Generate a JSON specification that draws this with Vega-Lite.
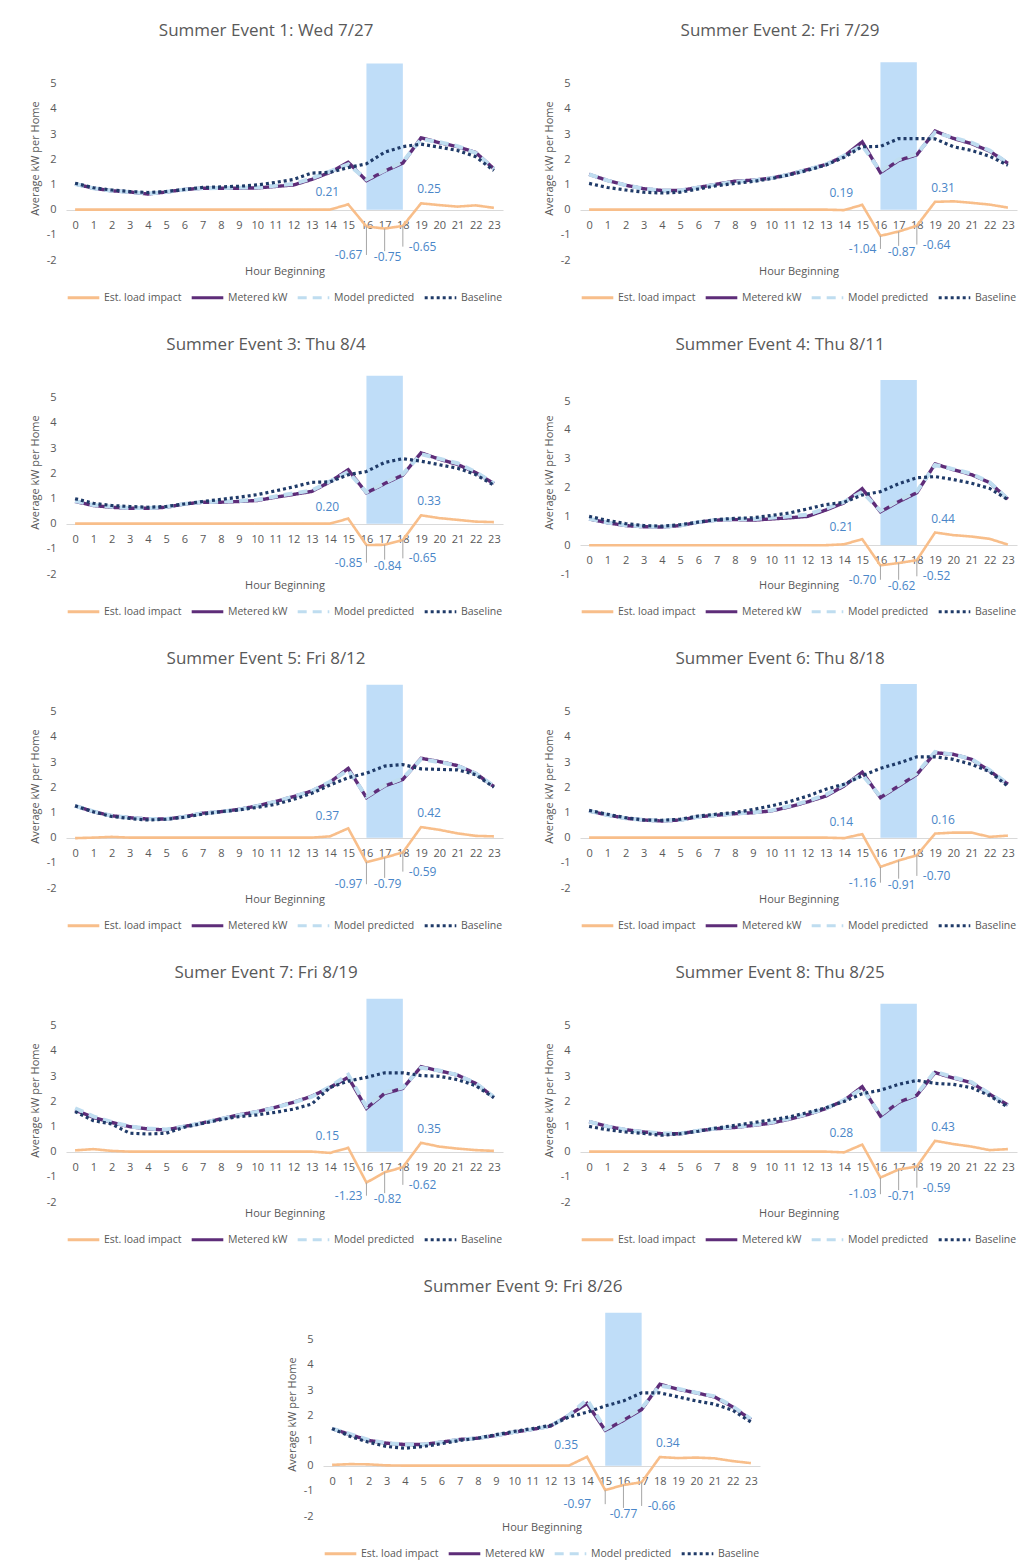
{
"$schema":"https://vega.github.io/schema/vega-lite/v6.json",
"background":"white",
"padding":{"left":29,"top":22,"right":2,"bottom":2},
"datasets":{
"w":[{"e":1,"a":16,"b":18},{"e":2,"a":16,"b":18},{"e":3,"a":16,"b":18},{"e":4,"a":16,"b":18},{"e":5,"a":16,"b":18},{"e":6,"a":16,"b":18},{"e":7,"a":16,"b":18},{"e":8,"a":16,"b":18},{"e":9,"a":15,"b":17}],
"l":[
{"e":1,"t":"pre","h":15,"v":0.21,"lab":"0.21"},{"e":1,"t":"n1","h":16,"v":-0.67,"lab":"-0.67"},{"e":1,"t":"n2","h":17,"v":-0.75,"lab":"-0.75"},{"e":1,"t":"n3","h":18,"v":-0.65,"lab":"-0.65"},{"e":1,"t":"post","h":19,"v":0.25,"lab":"0.25"},
{"e":2,"t":"pre","h":15,"v":0.19,"lab":"0.19"},{"e":2,"t":"n1","h":16,"v":-1.04,"lab":"-1.04"},{"e":2,"t":"n2","h":17,"v":-0.87,"lab":"-0.87"},{"e":2,"t":"n3","h":18,"v":-0.64,"lab":"-0.64"},{"e":2,"t":"post","h":19,"v":0.31,"lab":"0.31"},
{"e":3,"t":"pre","h":15,"v":0.20,"lab":"0.20"},{"e":3,"t":"n1","h":16,"v":-0.85,"lab":"-0.85"},{"e":3,"t":"n2","h":17,"v":-0.84,"lab":"-0.84"},{"e":3,"t":"n3","h":18,"v":-0.65,"lab":"-0.65"},{"e":3,"t":"post","h":19,"v":0.33,"lab":"0.33"},
{"e":4,"t":"pre","h":15,"v":0.21,"lab":"0.21"},{"e":4,"t":"n1","h":16,"v":-0.70,"lab":"-0.70"},{"e":4,"t":"n2","h":17,"v":-0.62,"lab":"-0.62"},{"e":4,"t":"n3","h":18,"v":-0.52,"lab":"-0.52"},{"e":4,"t":"post","h":19,"v":0.44,"lab":"0.44"},
{"e":5,"t":"pre","h":15,"v":0.37,"lab":"0.37"},{"e":5,"t":"n1","h":16,"v":-0.97,"lab":"-0.97"},{"e":5,"t":"n2","h":17,"v":-0.79,"lab":"-0.79"},{"e":5,"t":"n3","h":18,"v":-0.59,"lab":"-0.59"},{"e":5,"t":"post","h":19,"v":0.42,"lab":"0.42"},
{"e":6,"t":"pre","h":15,"v":0.14,"lab":"0.14"},{"e":6,"t":"n1","h":16,"v":-1.16,"lab":"-1.16"},{"e":6,"t":"n2","h":17,"v":-0.91,"lab":"-0.91"},{"e":6,"t":"n3","h":18,"v":-0.70,"lab":"-0.70"},{"e":6,"t":"post","h":19,"v":0.16,"lab":"0.16"},
{"e":7,"t":"pre","h":15,"v":0.15,"lab":"0.15"},{"e":7,"t":"n1","h":16,"v":-1.23,"lab":"-1.23"},{"e":7,"t":"n2","h":17,"v":-0.82,"lab":"-0.82"},{"e":7,"t":"n3","h":18,"v":-0.62,"lab":"-0.62"},{"e":7,"t":"post","h":19,"v":0.35,"lab":"0.35"},
{"e":8,"t":"pre","h":15,"v":0.28,"lab":"0.28"},{"e":8,"t":"n1","h":16,"v":-1.03,"lab":"-1.03"},{"e":8,"t":"n2","h":17,"v":-0.71,"lab":"-0.71"},{"e":8,"t":"n3","h":18,"v":-0.59,"lab":"-0.59"},{"e":8,"t":"post","h":19,"v":0.43,"lab":"0.43"},
{"e":9,"t":"pre","h":14,"v":0.35,"lab":"0.35"},{"e":9,"t":"n1","h":15,"v":-0.97,"lab":"-0.97"},{"e":9,"t":"n2","h":16,"v":-0.77,"lab":"-0.77"},{"e":9,"t":"n3","h":17,"v":-0.66,"lab":"-0.66"},{"e":9,"t":"post","h":18,"v":0.34,"lab":"0.34"}
],
"s":[
{"e":1,"h":0,"imp":0,"met":1.02,"mod":1.02,"base":1.05},{"e":1,"h":1,"imp":0,"met":0.85,"mod":0.85,"base":0.87},{"e":1,"h":2,"imp":0,"met":0.75,"mod":0.75,"base":0.78},{"e":1,"h":3,"imp":0,"met":0.70,"mod":0.70,"base":0.72},{"e":1,"h":4,"imp":0,"met":0.62,"mod":0.64,"base":0.68},{"e":1,"h":5,"imp":0,"met":0.70,"mod":0.70,"base":0.72},{"e":1,"h":6,"imp":0,"met":0.80,"mod":0.80,"base":0.80},{"e":1,"h":7,"imp":0,"met":0.85,"mod":0.85,"base":0.88},{"e":1,"h":8,"imp":0,"met":0.85,"mod":0.86,"base":0.90},{"e":1,"h":9,"imp":0,"met":0.85,"mod":0.87,"base":0.93},{"e":1,"h":10,"imp":0,"met":0.86,"mod":0.88,"base":0.98},{"e":1,"h":11,"imp":0,"met":0.92,"mod":0.95,"base":1.08},{"e":1,"h":12,"imp":0,"met":0.98,"mod":1.02,"base":1.20},{"e":1,"h":13,"imp":0,"met":1.20,"mod":1.24,"base":1.45},{"e":1,"h":14,"imp":0,"met":1.48,"mod":1.52,"base":1.48},{"e":1,"h":15,"imp":0.21,"met":1.88,"mod":1.80,"base":1.67},{"e":1,"h":16,"imp":-0.67,"met":1.15,"mod":1.20,"base":1.82},{"e":1,"h":17,"imp":-0.75,"met":1.53,"mod":1.56,"base":2.28},{"e":1,"h":18,"imp":-0.65,"met":1.85,"mod":1.90,"base":2.50},{"e":1,"h":19,"imp":0.25,"met":2.85,"mod":2.80,"base":2.60},{"e":1,"h":20,"imp":0.18,"met":2.66,"mod":2.68,"base":2.48},{"e":1,"h":21,"imp":0.12,"met":2.50,"mod":2.52,"base":2.35},{"e":1,"h":22,"imp":0.17,"met":2.27,"mod":2.25,"base":2.10},{"e":1,"h":23,"imp":0.07,"met":1.62,"mod":1.62,"base":1.55},
{"e":2,"h":0,"imp":0,"met":1.40,"mod":1.40,"base":1.04},{"e":2,"h":1,"imp":0,"met":1.16,"mod":1.16,"base":0.88},{"e":2,"h":2,"imp":0,"met":0.97,"mod":0.97,"base":0.78},{"e":2,"h":3,"imp":0,"met":0.83,"mod":0.83,"base":0.69},{"e":2,"h":4,"imp":0,"met":0.76,"mod":0.76,"base":0.66},{"e":2,"h":5,"imp":0,"met":0.76,"mod":0.76,"base":0.69},{"e":2,"h":6,"imp":0,"met":0.88,"mod":0.88,"base":0.82},{"e":2,"h":7,"imp":0,"met":1.01,"mod":1.00,"base":0.95},{"e":2,"h":8,"imp":0,"met":1.13,"mod":1.10,"base":1.04},{"e":2,"h":9,"imp":0,"met":1.17,"mod":1.16,"base":1.12},{"e":2,"h":10,"imp":0,"met":1.25,"mod":1.25,"base":1.23},{"e":2,"h":11,"imp":0,"met":1.40,"mod":1.40,"base":1.38},{"e":2,"h":12,"imp":0,"met":1.59,"mod":1.59,"base":1.56},{"e":2,"h":13,"imp":0,"met":1.79,"mod":1.79,"base":1.77},{"e":2,"h":14,"imp":-0.02,"met":2.12,"mod":2.14,"base":2.08},{"e":2,"h":15,"imp":0.19,"met":2.69,"mod":2.55,"base":2.50},{"e":2,"h":16,"imp":-1.04,"met":1.47,"mod":1.52,"base":2.51},{"e":2,"h":17,"imp":-0.87,"met":1.95,"mod":2.00,"base":2.82},{"e":2,"h":18,"imp":-0.64,"met":2.18,"mod":2.22,"base":2.82},{"e":2,"h":19,"imp":0.31,"met":3.12,"mod":3.06,"base":2.81},{"e":2,"h":20,"imp":0.33,"met":2.83,"mod":2.86,"base":2.50},{"e":2,"h":21,"imp":0.27,"met":2.62,"mod":2.66,"base":2.35},{"e":2,"h":22,"imp":0.20,"met":2.32,"mod":2.35,"base":2.12},{"e":2,"h":23,"imp":0.08,"met":1.84,"mod":1.84,"base":1.76},
{"e":3,"h":0,"imp":0,"met":0.88,"mod":0.90,"base":0.99},{"e":3,"h":1,"imp":0,"met":0.72,"mod":0.74,"base":0.81},{"e":3,"h":2,"imp":0,"met":0.65,"mod":0.67,"base":0.72},{"e":3,"h":3,"imp":0,"met":0.61,"mod":0.62,"base":0.68},{"e":3,"h":4,"imp":0,"met":0.61,"mod":0.62,"base":0.65},{"e":3,"h":5,"imp":0,"met":0.65,"mod":0.66,"base":0.68},{"e":3,"h":6,"imp":0,"met":0.78,"mod":0.78,"base":0.78},{"e":3,"h":7,"imp":0,"met":0.85,"mod":0.86,"base":0.88},{"e":3,"h":8,"imp":0,"met":0.85,"mod":0.87,"base":0.96},{"e":3,"h":9,"imp":0,"met":0.88,"mod":0.90,"base":1.05},{"e":3,"h":10,"imp":0,"met":0.92,"mod":0.95,"base":1.15},{"e":3,"h":11,"imp":0,"met":1.05,"mod":1.08,"base":1.30},{"e":3,"h":12,"imp":0,"met":1.16,"mod":1.20,"base":1.46},{"e":3,"h":13,"imp":0,"met":1.28,"mod":1.32,"base":1.64},{"e":3,"h":14,"imp":0,"met":1.66,"mod":1.68,"base":1.66},{"e":3,"h":15,"imp":0.20,"met":2.14,"mod":2.05,"base":1.94},{"e":3,"h":16,"imp":-0.85,"met":1.22,"mod":1.25,"base":2.07},{"e":3,"h":17,"imp":-0.84,"met":1.59,"mod":1.62,"base":2.43},{"e":3,"h":18,"imp":-0.65,"met":1.93,"mod":1.97,"base":2.58},{"e":3,"h":19,"imp":0.33,"met":2.81,"mod":2.76,"base":2.48},{"e":3,"h":20,"imp":0.22,"met":2.56,"mod":2.58,"base":2.34},{"e":3,"h":21,"imp":0.15,"met":2.35,"mod":2.40,"base":2.20},{"e":3,"h":22,"imp":0.08,"met":2.03,"mod":2.05,"base":1.95},{"e":3,"h":23,"imp":0.06,"met":1.59,"mod":1.60,"base":1.53},
{"e":4,"h":0,"imp":0,"met":0.91,"mod":0.92,"base":1.00},{"e":4,"h":1,"imp":0,"met":0.78,"mod":0.79,"base":0.86},{"e":4,"h":2,"imp":0,"met":0.68,"mod":0.69,"base":0.75},{"e":4,"h":3,"imp":0,"met":0.64,"mod":0.65,"base":0.68},{"e":4,"h":4,"imp":0,"met":0.63,"mod":0.64,"base":0.66},{"e":4,"h":5,"imp":0,"met":0.68,"mod":0.68,"base":0.71},{"e":4,"h":6,"imp":0,"met":0.80,"mod":0.80,"base":0.80},{"e":4,"h":7,"imp":0,"met":0.87,"mod":0.87,"base":0.89},{"e":4,"h":8,"imp":0,"met":0.89,"mod":0.90,"base":0.93},{"e":4,"h":9,"imp":0,"met":0.87,"mod":0.90,"base":0.95},{"e":4,"h":10,"imp":0,"met":0.91,"mod":0.95,"base":1.03},{"e":4,"h":11,"imp":0,"met":0.95,"mod":1.00,"base":1.12},{"e":4,"h":12,"imp":0,"met":1.00,"mod":1.06,"base":1.26},{"e":4,"h":13,"imp":0,"met":1.22,"mod":1.27,"base":1.41},{"e":4,"h":14,"imp":0.03,"met":1.47,"mod":1.50,"base":1.49},{"e":4,"h":15,"imp":0.21,"met":1.96,"mod":1.85,"base":1.74},{"e":4,"h":16,"imp":-0.70,"met":1.16,"mod":1.20,"base":1.86},{"e":4,"h":17,"imp":-0.62,"met":1.51,"mod":1.55,"base":2.13},{"e":4,"h":18,"imp":-0.52,"met":1.82,"mod":1.87,"base":2.34},{"e":4,"h":19,"imp":0.44,"met":2.82,"mod":2.78,"base":2.38},{"e":4,"h":20,"imp":0.35,"met":2.62,"mod":2.64,"base":2.28},{"e":4,"h":21,"imp":0.30,"met":2.45,"mod":2.48,"base":2.15},{"e":4,"h":22,"imp":0.22,"met":2.17,"mod":2.18,"base":1.97},{"e":4,"h":23,"imp":0.02,"met":1.60,"mod":1.60,"base":1.58},
{"e":5,"h":0,"imp":-0.02,"met":1.26,"mod":1.26,"base":1.26},{"e":5,"h":1,"imp":0,"met":1.03,"mod":1.04,"base":1.03},{"e":5,"h":2,"imp":0.03,"met":0.87,"mod":0.87,"base":0.84},{"e":5,"h":3,"imp":0,"met":0.79,"mod":0.79,"base":0.76},{"e":5,"h":4,"imp":0,"met":0.74,"mod":0.74,"base":0.70},{"e":5,"h":5,"imp":0,"met":0.74,"mod":0.74,"base":0.73},{"e":5,"h":6,"imp":0,"met":0.83,"mod":0.83,"base":0.81},{"e":5,"h":7,"imp":0,"met":0.97,"mod":0.97,"base":0.93},{"e":5,"h":8,"imp":0,"met":1.03,"mod":1.03,"base":1.03},{"e":5,"h":9,"imp":0,"met":1.12,"mod":1.12,"base":1.10},{"e":5,"h":10,"imp":0,"met":1.26,"mod":1.26,"base":1.20},{"e":5,"h":11,"imp":0,"met":1.43,"mod":1.43,"base":1.32},{"e":5,"h":12,"imp":0,"met":1.63,"mod":1.63,"base":1.52},{"e":5,"h":13,"imp":0,"met":1.85,"mod":1.85,"base":1.76},{"e":5,"h":14,"imp":0.05,"met":2.20,"mod":2.22,"base":2.09},{"e":5,"h":15,"imp":0.37,"met":2.75,"mod":2.68,"base":2.38},{"e":5,"h":16,"imp":-0.97,"met":1.59,"mod":1.63,"base":2.56},{"e":5,"h":17,"imp":-0.79,"met":2.05,"mod":2.08,"base":2.84},{"e":5,"h":18,"imp":-0.59,"met":2.31,"mod":2.35,"base":2.90},{"e":5,"h":19,"imp":0.42,"met":3.15,"mod":3.12,"base":2.73},{"e":5,"h":20,"imp":0.31,"met":3.02,"mod":3.00,"base":2.71},{"e":5,"h":21,"imp":0.17,"met":2.86,"mod":2.85,"base":2.69},{"e":5,"h":22,"imp":0.07,"met":2.55,"mod":2.55,"base":2.50},{"e":5,"h":23,"imp":0.05,"met":2.03,"mod":2.05,"base":2.00},
{"e":6,"h":0,"imp":0,"met":1.06,"mod":1.06,"base":1.08},{"e":6,"h":1,"imp":0,"met":0.90,"mod":0.90,"base":0.93},{"e":6,"h":2,"imp":0,"met":0.77,"mod":0.77,"base":0.79},{"e":6,"h":3,"imp":0,"met":0.70,"mod":0.70,"base":0.70},{"e":6,"h":4,"imp":0,"met":0.66,"mod":0.67,"base":0.69},{"e":6,"h":5,"imp":0,"met":0.70,"mod":0.70,"base":0.73},{"e":6,"h":6,"imp":0,"met":0.83,"mod":0.83,"base":0.86},{"e":6,"h":7,"imp":0,"met":0.89,"mod":0.89,"base":0.93},{"e":6,"h":8,"imp":0,"met":0.95,"mod":0.95,"base":0.99},{"e":6,"h":9,"imp":0,"met":0.99,"mod":1.00,"base":1.12},{"e":6,"h":10,"imp":0,"met":1.06,"mod":1.08,"base":1.26},{"e":6,"h":11,"imp":0,"met":1.22,"mod":1.25,"base":1.43},{"e":6,"h":12,"imp":0,"met":1.42,"mod":1.45,"base":1.65},{"e":6,"h":13,"imp":0,"met":1.65,"mod":1.70,"base":1.92},{"e":6,"h":14,"imp":-0.02,"met":2.05,"mod":2.10,"base":2.12},{"e":6,"h":15,"imp":0.14,"met":2.60,"mod":2.50,"base":2.46},{"e":6,"h":16,"imp":-1.16,"met":1.59,"mod":1.63,"base":2.75},{"e":6,"h":17,"imp":-0.91,"met":2.05,"mod":2.10,"base":2.96},{"e":6,"h":18,"imp":-0.70,"met":2.51,"mod":2.56,"base":3.21},{"e":6,"h":19,"imp":0.16,"met":3.37,"mod":3.40,"base":3.21},{"e":6,"h":20,"imp":0.20,"met":3.31,"mod":3.30,"base":3.11},{"e":6,"h":21,"imp":0.20,"met":3.11,"mod":3.12,"base":2.91},{"e":6,"h":22,"imp":0.03,"met":2.65,"mod":2.68,"base":2.62},{"e":6,"h":23,"imp":0.08,"met":2.12,"mod":2.12,"base":2.04},
{"e":7,"h":0,"imp":0.05,"met":1.65,"mod":1.72,"base":1.59},{"e":7,"h":1,"imp":0.10,"met":1.36,"mod":1.40,"base":1.23},{"e":7,"h":2,"imp":0.03,"met":1.16,"mod":1.18,"base":1.10},{"e":7,"h":3,"imp":0,"met":0.99,"mod":1.00,"base":0.73},{"e":7,"h":4,"imp":0,"met":0.90,"mod":0.92,"base":0.70},{"e":7,"h":5,"imp":0,"met":0.86,"mod":0.88,"base":0.73},{"e":7,"h":6,"imp":0,"met":1.00,"mod":1.00,"base":0.97},{"e":7,"h":7,"imp":0,"met":1.14,"mod":1.14,"base":1.12},{"e":7,"h":8,"imp":0,"met":1.30,"mod":1.30,"base":1.27},{"e":7,"h":9,"imp":0,"met":1.46,"mod":1.45,"base":1.39},{"e":7,"h":10,"imp":0,"met":1.59,"mod":1.58,"base":1.46},{"e":7,"h":11,"imp":0,"met":1.76,"mod":1.75,"base":1.56},{"e":7,"h":12,"imp":0,"met":1.96,"mod":1.95,"base":1.69},{"e":7,"h":13,"imp":0,"met":2.20,"mod":2.18,"base":1.89},{"e":7,"h":14,"imp":-0.05,"met":2.55,"mod":2.58,"base":2.55},{"e":7,"h":15,"imp":0.15,"met":2.95,"mod":3.05,"base":2.80},{"e":7,"h":16,"imp":-1.23,"met":1.72,"mod":1.78,"base":2.95},{"e":7,"h":17,"imp":-0.82,"met":2.31,"mod":2.35,"base":3.13},{"e":7,"h":18,"imp":-0.62,"met":2.51,"mod":2.55,"base":3.13},{"e":7,"h":19,"imp":0.35,"met":3.37,"mod":3.33,"base":3.02},{"e":7,"h":20,"imp":0.20,"met":3.21,"mod":3.22,"base":2.99},{"e":7,"h":21,"imp":0.12,"met":3.04,"mod":3.04,"base":2.86},{"e":7,"h":22,"imp":0.06,"met":2.71,"mod":2.72,"base":2.62},{"e":7,"h":23,"imp":0.03,"met":2.16,"mod":2.17,"base":2.14},
{"e":8,"h":0,"imp":0,"met":1.19,"mod":1.19,"base":1.00},{"e":8,"h":1,"imp":0,"met":1.00,"mod":1.00,"base":0.87},{"e":8,"h":2,"imp":0,"met":0.87,"mod":0.87,"base":0.78},{"e":8,"h":3,"imp":0,"met":0.78,"mod":0.78,"base":0.72},{"e":8,"h":4,"imp":0,"met":0.71,"mod":0.72,"base":0.65},{"e":8,"h":5,"imp":0,"met":0.71,"mod":0.72,"base":0.71},{"e":8,"h":6,"imp":0,"met":0.83,"mod":0.83,"base":0.81},{"e":8,"h":7,"imp":0,"met":0.91,"mod":0.92,"base":0.94},{"e":8,"h":8,"imp":0,"met":0.96,"mod":0.98,"base":1.04},{"e":8,"h":9,"imp":0,"met":1.04,"mod":1.06,"base":1.15},{"e":8,"h":10,"imp":0,"met":1.13,"mod":1.16,"base":1.26},{"e":8,"h":11,"imp":0,"met":1.29,"mod":1.31,"base":1.38},{"e":8,"h":12,"imp":0,"met":1.47,"mod":1.49,"base":1.55},{"e":8,"h":13,"imp":0,"met":1.71,"mod":1.72,"base":1.74},{"e":8,"h":14,"imp":-0.03,"met":2.03,"mod":2.05,"base":1.99},{"e":8,"h":15,"imp":0.28,"met":2.58,"mod":2.50,"base":2.30},{"e":8,"h":16,"imp":-1.03,"met":1.41,"mod":1.46,"base":2.44},{"e":8,"h":17,"imp":-0.71,"met":1.96,"mod":2.00,"base":2.67},{"e":8,"h":18,"imp":-0.59,"met":2.24,"mod":2.28,"base":2.83},{"e":8,"h":19,"imp":0.43,"met":3.14,"mod":3.18,"base":2.71},{"e":8,"h":20,"imp":0.30,"met":2.92,"mod":2.95,"base":2.67},{"e":8,"h":21,"imp":0.20,"met":2.74,"mod":2.76,"base":2.54},{"e":8,"h":22,"imp":0.06,"met":2.28,"mod":2.30,"base":2.22},{"e":8,"h":23,"imp":0.10,"met":1.85,"mod":1.85,"base":1.77},
{"e":9,"h":0,"imp":0.03,"met":1.47,"mod":1.47,"base":1.47},{"e":9,"h":1,"imp":0.06,"met":1.23,"mod":1.25,"base":1.16},{"e":9,"h":2,"imp":0.05,"met":1.00,"mod":1.02,"base":0.93},{"e":9,"h":3,"imp":0.01,"met":0.89,"mod":0.89,"base":0.76},{"e":9,"h":4,"imp":0,"met":0.84,"mod":0.84,"base":0.69},{"e":9,"h":5,"imp":0,"met":0.84,"mod":0.84,"base":0.76},{"e":9,"h":6,"imp":0,"met":0.93,"mod":0.93,"base":0.87},{"e":9,"h":7,"imp":0,"met":1.04,"mod":1.03,"base":1.00},{"e":9,"h":8,"imp":0,"met":1.09,"mod":1.09,"base":1.09},{"e":9,"h":9,"imp":0,"met":1.20,"mod":1.20,"base":1.23},{"e":9,"h":10,"imp":0,"met":1.33,"mod":1.33,"base":1.36},{"e":9,"h":11,"imp":0,"met":1.44,"mod":1.44,"base":1.47},{"e":9,"h":12,"imp":0,"met":1.57,"mod":1.57,"base":1.60},{"e":9,"h":13,"imp":0,"met":2.00,"mod":2.00,"base":1.93},{"e":9,"h":14,"imp":0.35,"met":2.47,"mod":2.62,"base":2.12},{"e":9,"h":15,"imp":-0.97,"met":1.40,"mod":1.45,"base":2.37},{"e":9,"h":16,"imp":-0.77,"met":1.80,"mod":1.85,"base":2.57},{"e":9,"h":17,"imp":-0.66,"met":2.23,"mod":2.28,"base":2.89},{"e":9,"h":18,"imp":0.34,"met":3.23,"mod":3.18,"base":2.89},{"e":9,"h":19,"imp":0.30,"met":3.03,"mod":3.05,"base":2.73},{"e":9,"h":20,"imp":0.32,"met":2.89,"mod":2.90,"base":2.57},{"e":9,"h":21,"imp":0.29,"met":2.73,"mod":2.75,"base":2.44},{"e":9,"h":22,"imp":0.18,"met":2.33,"mod":2.35,"base":2.20},{"e":9,"h":23,"imp":0.10,"met":1.83,"mod":1.85,"base":1.73}
]},
"spacing":32,
"center":true,
"resolve":{"scale":{"x":"independent","y":"independent","color":"independent","strokeDash":"independent"},"legend":{"color":"independent","strokeDash":"independent"}},
"vconcat":[
{"hconcat":[
{"width":437,"height":204,"title":"Summer Event 1: Wed 7/27","resolve":{"axis":{"x":"independent","y":"independent"}},"layer":[
{"data":{"name":"w"},"transform":[{"filter":"datum.e==1"}],"mark":{"type":"rect","color":"#BFDDF8"},"encoding":{"x":{"field":"a","type":"quantitative","axis":null},"x2":{"field":"b"},"y":{"datum":0,"type":"quantitative","axis":null},"y2":{"datum":5.8}}},
{"data":{"name":"s"},"transform":[{"filter":"datum.e==1"},{"fold":["imp","met","mod","base"],"as":["k","v"]}],"encoding":{"x":{"field":"h","type":"quantitative","scale":{"domain":[-0.5,23.5],"nice":false,"zero":false},"axis":{"values":[0,1,2,3,4,5,6,7,8,9,10,11,12,13,14,15,16,17,18,19,20,21,22,23],"title":"Hour Beginning","offset":-50,"titleY":61,"titleBaseline":"middle","labelPadding":9,"labelOverlap":false}},"y":{"field":"v","type":"quantitative","scale":{"domain":[-2,6.1],"nice":false},"axis":{"values":[-2,-1,0,1,2,3,4,5],"title":"Average kW per Home","domain":false,"labelPadding":10,"titlePadding":6,"labelOverlap":false,"labelExpr":"''+datum.value"}},"color":{"field":"k","type":"nominal","scale":{"domain":["imp","met","mod","base"],"range":["#F8BE8A","#5E2D79","#BFDDF0","#1F3A68"]},"legend":{"title":null,"labelExpr":"datum.label=='imp'?'Est. load impact':datum.label=='met'?'Metered kW':datum.label=='mod'?'Model predicted':'Baseline'"}},"strokeDash":{"field":"k","type":"nominal","scale":{"domain":["imp","met","mod","base"],"range":[[1,0],[1,0],[9,6],[3,3]]},"legend":{"title":null,"labelExpr":"datum.label=='imp'?'Est. load impact':datum.label=='met'?'Metered kW':datum.label=='mod'?'Model predicted':'Baseline'"}}},"layer":[
{"transform":[{"filter":"datum.k=='imp'"}],"mark":{"type":"line","strokeWidth":2.6}},
{"transform":[{"filter":"datum.k=='met'"}],"mark":{"type":"line","strokeWidth":3.4}},
{"transform":[{"filter":"datum.k=='mod'"}],"mark":{"type":"line","strokeWidth":4}},
{"transform":[{"filter":"datum.k=='base'"}],"mark":{"type":"line","strokeWidth":3.2}}]},
{"data":{"name":"l"},"transform":[{"filter":"datum.e==1&&datum.t=='pre'"}],"mark":{"type":"text","align":"right","baseline":"middle","dx":-9,"dy":-12,"fontSize":12,"color":"#4A86C8"},"encoding":{"x":{"field":"h","type":"quantitative","axis":null},"y":{"field":"v","type":"quantitative","axis":null},"text":{"field":"lab"}}},
{"data":{"name":"l"},"transform":[{"filter":"datum.e==1&&datum.t=='post'"}],"mark":{"type":"text","align":"center","baseline":"middle","dx":8,"dy":-14,"fontSize":12,"color":"#4A86C8"},"encoding":{"x":{"field":"h","type":"quantitative","axis":null},"y":{"field":"v","type":"quantitative","axis":null},"text":{"field":"lab"}}},
{"data":{"name":"l"},"transform":[{"filter":"datum.e==1&&datum.t=='n1'"}],"mark":{"type":"rule","color":"#A6A6A6"},"encoding":{"x":{"field":"h","type":"quantitative","axis":null},"y":{"field":"v","type":"quantitative","axis":null},"y2":{"datum":-1.8}}},
{"data":{"name":"l"},"transform":[{"filter":"datum.e==1&&datum.t=='n1'"}],"mark":{"type":"text","align":"right","baseline":"middle","dx":-4,"fontSize":12,"color":"#4A86C8"},"encoding":{"x":{"field":"h","type":"quantitative","axis":null},"y":{"datum":-1.8,"type":"quantitative","axis":null},"text":{"field":"lab"}}},
{"data":{"name":"l"},"transform":[{"filter":"datum.e==1&&datum.t=='n2'"}],"mark":{"type":"rule","color":"#A6A6A6"},"encoding":{"x":{"field":"h","type":"quantitative","axis":null},"y":{"field":"v","type":"quantitative","axis":null},"y2":{"datum":-1.65}}},
{"data":{"name":"l"},"transform":[{"filter":"datum.e==1&&datum.t=='n2'"}],"mark":{"type":"text","align":"center","baseline":"middle","dx":3,"fontSize":12,"color":"#4A86C8"},"encoding":{"x":{"field":"h","type":"quantitative","axis":null},"y":{"datum":-1.9,"type":"quantitative","axis":null},"text":{"field":"lab"}}},
{"data":{"name":"l"},"transform":[{"filter":"datum.e==1&&datum.t=='n3'"}],"mark":{"type":"rule","color":"#A6A6A6"},"encoding":{"x":{"field":"h","type":"quantitative","axis":null},"y":{"field":"v","type":"quantitative","axis":null},"y2":{"datum":-1.47}}},
{"data":{"name":"l"},"transform":[{"filter":"datum.e==1&&datum.t=='n3'"}],"mark":{"type":"text","align":"left","baseline":"middle","dx":6,"fontSize":12,"color":"#4A86C8"},"encoding":{"x":{"field":"h","type":"quantitative","axis":null},"y":{"datum":-1.47,"type":"quantitative","axis":null},"text":{"field":"lab"}}}
]},
{"width":437,"height":204,"title":"Summer Event 2: Fri 7/29","resolve":{"axis":{"x":"independent","y":"independent"}},"layer":[
{"data":{"name":"w"},"transform":[{"filter":"datum.e==2"}],"mark":{"type":"rect","color":"#BFDDF8"},"encoding":{"x":{"field":"a","type":"quantitative","axis":null},"x2":{"field":"b"},"y":{"datum":0,"type":"quantitative","axis":null},"y2":{"datum":5.85}}},
{"data":{"name":"s"},"transform":[{"filter":"datum.e==2"},{"fold":["imp","met","mod","base"],"as":["k","v"]}],"encoding":{"x":{"field":"h","type":"quantitative","scale":{"domain":[-0.5,23.5],"nice":false,"zero":false},"axis":{"values":[0,1,2,3,4,5,6,7,8,9,10,11,12,13,14,15,16,17,18,19,20,21,22,23],"title":"Hour Beginning","offset":-50,"titleY":61,"titleBaseline":"middle","labelPadding":9,"labelOverlap":false}},"y":{"field":"v","type":"quantitative","scale":{"domain":[-2,6.1],"nice":false},"axis":{"values":[-2,-1,0,1,2,3,4,5],"title":"Average kW per Home","domain":false,"labelPadding":10,"titlePadding":6,"labelOverlap":false,"labelExpr":"''+datum.value"}},"color":{"field":"k","type":"nominal","scale":{"domain":["imp","met","mod","base"],"range":["#F8BE8A","#5E2D79","#BFDDF0","#1F3A68"]},"legend":{"title":null,"labelExpr":"datum.label=='imp'?'Est. load impact':datum.label=='met'?'Metered kW':datum.label=='mod'?'Model predicted':'Baseline'"}},"strokeDash":{"field":"k","type":"nominal","scale":{"domain":["imp","met","mod","base"],"range":[[1,0],[1,0],[9,6],[3,3]]},"legend":{"title":null,"labelExpr":"datum.label=='imp'?'Est. load impact':datum.label=='met'?'Metered kW':datum.label=='mod'?'Model predicted':'Baseline'"}}},"layer":[
{"transform":[{"filter":"datum.k=='imp'"}],"mark":{"type":"line","strokeWidth":2.6}},
{"transform":[{"filter":"datum.k=='met'"}],"mark":{"type":"line","strokeWidth":3.4}},
{"transform":[{"filter":"datum.k=='mod'"}],"mark":{"type":"line","strokeWidth":4}},
{"transform":[{"filter":"datum.k=='base'"}],"mark":{"type":"line","strokeWidth":3.2}}]},
{"data":{"name":"l"},"transform":[{"filter":"datum.e==2&&datum.t=='pre'"}],"mark":{"type":"text","align":"right","baseline":"middle","dx":-9,"dy":-12,"fontSize":12,"color":"#4A86C8"},"encoding":{"x":{"field":"h","type":"quantitative","axis":null},"y":{"field":"v","type":"quantitative","axis":null},"text":{"field":"lab"}}},
{"data":{"name":"l"},"transform":[{"filter":"datum.e==2&&datum.t=='post'"}],"mark":{"type":"text","align":"center","baseline":"middle","dx":8,"dy":-14,"fontSize":12,"color":"#4A86C8"},"encoding":{"x":{"field":"h","type":"quantitative","axis":null},"y":{"field":"v","type":"quantitative","axis":null},"text":{"field":"lab"}}},
{"data":{"name":"l"},"transform":[{"filter":"datum.e==2&&datum.t=='n1'"}],"mark":{"type":"rule","color":"#A6A6A6"},"encoding":{"x":{"field":"h","type":"quantitative","axis":null},"y":{"field":"v","type":"quantitative","axis":null},"y2":{"datum":-1.56}}},
{"data":{"name":"l"},"transform":[{"filter":"datum.e==2&&datum.t=='n1'"}],"mark":{"type":"text","align":"right","baseline":"middle","dx":-4,"fontSize":12,"color":"#4A86C8"},"encoding":{"x":{"field":"h","type":"quantitative","axis":null},"y":{"datum":-1.56,"type":"quantitative","axis":null},"text":{"field":"lab"}}},
{"data":{"name":"l"},"transform":[{"filter":"datum.e==2&&datum.t=='n2'"}],"mark":{"type":"rule","color":"#A6A6A6"},"encoding":{"x":{"field":"h","type":"quantitative","axis":null},"y":{"field":"v","type":"quantitative","axis":null},"y2":{"datum":-1.44}}},
{"data":{"name":"l"},"transform":[{"filter":"datum.e==2&&datum.t=='n2'"}],"mark":{"type":"text","align":"center","baseline":"middle","dx":3,"fontSize":12,"color":"#4A86C8"},"encoding":{"x":{"field":"h","type":"quantitative","axis":null},"y":{"datum":-1.69,"type":"quantitative","axis":null},"text":{"field":"lab"}}},
{"data":{"name":"l"},"transform":[{"filter":"datum.e==2&&datum.t=='n3'"}],"mark":{"type":"rule","color":"#A6A6A6"},"encoding":{"x":{"field":"h","type":"quantitative","axis":null},"y":{"field":"v","type":"quantitative","axis":null},"y2":{"datum":-1.39}}},
{"data":{"name":"l"},"transform":[{"filter":"datum.e==2&&datum.t=='n3'"}],"mark":{"type":"text","align":"left","baseline":"middle","dx":6,"fontSize":12,"color":"#4A86C8"},"encoding":{"x":{"field":"h","type":"quantitative","axis":null},"y":{"datum":-1.39,"type":"quantitative","axis":null},"text":{"field":"lab"}}}
]}
],"spacing":40,"resolve":{"scale":{"x":"independent","y":"independent","color":"independent","strokeDash":"independent"},"legend":{"color":"independent","strokeDash":"independent"}}},
{"hconcat":[
{"width":437,"height":204,"title":"Summer Event 3: Thu 8/4","resolve":{"axis":{"x":"independent","y":"independent"}},"layer":[
{"data":{"name":"w"},"transform":[{"filter":"datum.e==3"}],"mark":{"type":"rect","color":"#BFDDF8"},"encoding":{"x":{"field":"a","type":"quantitative","axis":null},"x2":{"field":"b"},"y":{"datum":0,"type":"quantitative","axis":null},"y2":{"datum":5.87}}},
{"data":{"name":"s"},"transform":[{"filter":"datum.e==3"},{"fold":["imp","met","mod","base"],"as":["k","v"]}],"encoding":{"x":{"field":"h","type":"quantitative","scale":{"domain":[-0.5,23.5],"nice":false,"zero":false},"axis":{"values":[0,1,2,3,4,5,6,7,8,9,10,11,12,13,14,15,16,17,18,19,20,21,22,23],"title":"Hour Beginning","offset":-50,"titleY":61,"titleBaseline":"middle","labelPadding":9,"labelOverlap":false}},"y":{"field":"v","type":"quantitative","scale":{"domain":[-2,6.1],"nice":false},"axis":{"values":[-2,-1,0,1,2,3,4,5],"title":"Average kW per Home","domain":false,"labelPadding":10,"titlePadding":6,"labelOverlap":false,"labelExpr":"''+datum.value"}},"color":{"field":"k","type":"nominal","scale":{"domain":["imp","met","mod","base"],"range":["#F8BE8A","#5E2D79","#BFDDF0","#1F3A68"]},"legend":{"title":null,"labelExpr":"datum.label=='imp'?'Est. load impact':datum.label=='met'?'Metered kW':datum.label=='mod'?'Model predicted':'Baseline'"}},"strokeDash":{"field":"k","type":"nominal","scale":{"domain":["imp","met","mod","base"],"range":[[1,0],[1,0],[9,6],[3,3]]},"legend":{"title":null,"labelExpr":"datum.label=='imp'?'Est. load impact':datum.label=='met'?'Metered kW':datum.label=='mod'?'Model predicted':'Baseline'"}}},"layer":[
{"transform":[{"filter":"datum.k=='imp'"}],"mark":{"type":"line","strokeWidth":2.6}},
{"transform":[{"filter":"datum.k=='met'"}],"mark":{"type":"line","strokeWidth":3.4}},
{"transform":[{"filter":"datum.k=='mod'"}],"mark":{"type":"line","strokeWidth":4}},
{"transform":[{"filter":"datum.k=='base'"}],"mark":{"type":"line","strokeWidth":3.2}}]},
{"data":{"name":"l"},"transform":[{"filter":"datum.e==3&&datum.t=='pre'"}],"mark":{"type":"text","align":"right","baseline":"middle","dx":-9,"dy":-12,"fontSize":12,"color":"#4A86C8"},"encoding":{"x":{"field":"h","type":"quantitative","axis":null},"y":{"field":"v","type":"quantitative","axis":null},"text":{"field":"lab"}}},
{"data":{"name":"l"},"transform":[{"filter":"datum.e==3&&datum.t=='post'"}],"mark":{"type":"text","align":"center","baseline":"middle","dx":8,"dy":-14,"fontSize":12,"color":"#4A86C8"},"encoding":{"x":{"field":"h","type":"quantitative","axis":null},"y":{"field":"v","type":"quantitative","axis":null},"text":{"field":"lab"}}},
{"data":{"name":"l"},"transform":[{"filter":"datum.e==3&&datum.t=='n1'"}],"mark":{"type":"rule","color":"#A6A6A6"},"encoding":{"x":{"field":"h","type":"quantitative","axis":null},"y":{"field":"v","type":"quantitative","axis":null},"y2":{"datum":-1.55}}},
{"data":{"name":"l"},"transform":[{"filter":"datum.e==3&&datum.t=='n1'"}],"mark":{"type":"text","align":"right","baseline":"middle","dx":-4,"fontSize":12,"color":"#4A86C8"},"encoding":{"x":{"field":"h","type":"quantitative","axis":null},"y":{"datum":-1.55,"type":"quantitative","axis":null},"text":{"field":"lab"}}},
{"data":{"name":"l"},"transform":[{"filter":"datum.e==3&&datum.t=='n2'"}],"mark":{"type":"rule","color":"#A6A6A6"},"encoding":{"x":{"field":"h","type":"quantitative","axis":null},"y":{"field":"v","type":"quantitative","axis":null},"y2":{"datum":-1.43}}},
{"data":{"name":"l"},"transform":[{"filter":"datum.e==3&&datum.t=='n2'"}],"mark":{"type":"text","align":"center","baseline":"middle","dx":3,"fontSize":12,"color":"#4A86C8"},"encoding":{"x":{"field":"h","type":"quantitative","axis":null},"y":{"datum":-1.68,"type":"quantitative","axis":null},"text":{"field":"lab"}}},
{"data":{"name":"l"},"transform":[{"filter":"datum.e==3&&datum.t=='n3'"}],"mark":{"type":"rule","color":"#A6A6A6"},"encoding":{"x":{"field":"h","type":"quantitative","axis":null},"y":{"field":"v","type":"quantitative","axis":null},"y2":{"datum":-1.38}}},
{"data":{"name":"l"},"transform":[{"filter":"datum.e==3&&datum.t=='n3'"}],"mark":{"type":"text","align":"left","baseline":"middle","dx":6,"fontSize":12,"color":"#4A86C8"},"encoding":{"x":{"field":"h","type":"quantitative","axis":null},"y":{"datum":-1.38,"type":"quantitative","axis":null},"text":{"field":"lab"}}}
]},
{"width":437,"height":204,"title":"Summer Event 4: Thu 8/11","resolve":{"axis":{"x":"independent","y":"independent"}},"layer":[
{"data":{"name":"w"},"transform":[{"filter":"datum.e==4"}],"mark":{"type":"rect","color":"#BFDDF8"},"encoding":{"x":{"field":"a","type":"quantitative","axis":null},"x2":{"field":"b"},"y":{"datum":0,"type":"quantitative","axis":null},"y2":{"datum":5.73}}},
{"data":{"name":"s"},"transform":[{"filter":"datum.e==4"},{"fold":["imp","met","mod","base"],"as":["k","v"]}],"encoding":{"x":{"field":"h","type":"quantitative","scale":{"domain":[-0.5,23.5],"nice":false,"zero":false},"axis":{"values":[0,1,2,3,4,5,6,7,8,9,10,11,12,13,14,15,16,17,18,19,20,21,22,23],"title":"Hour Beginning","offset":-29,"titleY":40,"titleBaseline":"middle","labelPadding":9,"labelOverlap":false}},"y":{"field":"v","type":"quantitative","scale":{"domain":[-1,6.08],"nice":false},"axis":{"values":[-1,0,1,2,3,4,5],"title":"Average kW per Home","domain":false,"labelPadding":10,"titlePadding":6,"labelOverlap":false,"labelExpr":"''+datum.value"}},"color":{"field":"k","type":"nominal","scale":{"domain":["imp","met","mod","base"],"range":["#F8BE8A","#5E2D79","#BFDDF0","#1F3A68"]},"legend":{"title":null,"labelExpr":"datum.label=='imp'?'Est. load impact':datum.label=='met'?'Metered kW':datum.label=='mod'?'Model predicted':'Baseline'"}},"strokeDash":{"field":"k","type":"nominal","scale":{"domain":["imp","met","mod","base"],"range":[[1,0],[1,0],[9,6],[3,3]]},"legend":{"title":null,"labelExpr":"datum.label=='imp'?'Est. load impact':datum.label=='met'?'Metered kW':datum.label=='mod'?'Model predicted':'Baseline'"}}},"layer":[
{"transform":[{"filter":"datum.k=='imp'"}],"mark":{"type":"line","strokeWidth":2.6}},
{"transform":[{"filter":"datum.k=='met'"}],"mark":{"type":"line","strokeWidth":3.4}},
{"transform":[{"filter":"datum.k=='mod'"}],"mark":{"type":"line","strokeWidth":4}},
{"transform":[{"filter":"datum.k=='base'"}],"mark":{"type":"line","strokeWidth":3.2}}]},
{"data":{"name":"l"},"transform":[{"filter":"datum.e==4&&datum.t=='pre'"}],"mark":{"type":"text","align":"right","baseline":"middle","dx":-9,"dy":-12,"fontSize":12,"color":"#4A86C8"},"encoding":{"x":{"field":"h","type":"quantitative","axis":null},"y":{"field":"v","type":"quantitative","axis":null},"text":{"field":"lab"}}},
{"data":{"name":"l"},"transform":[{"filter":"datum.e==4&&datum.t=='post'"}],"mark":{"type":"text","align":"center","baseline":"middle","dx":8,"dy":-14,"fontSize":12,"color":"#4A86C8"},"encoding":{"x":{"field":"h","type":"quantitative","axis":null},"y":{"field":"v","type":"quantitative","axis":null},"text":{"field":"lab"}}},
{"data":{"name":"l"},"transform":[{"filter":"datum.e==4&&datum.t=='n1'"}],"mark":{"type":"rule","color":"#A6A6A6"},"encoding":{"x":{"field":"h","type":"quantitative","axis":null},"y":{"field":"v","type":"quantitative","axis":null},"y2":{"datum":-1.2}}},
{"data":{"name":"l"},"transform":[{"filter":"datum.e==4&&datum.t=='n1'"}],"mark":{"type":"text","align":"right","baseline":"middle","dx":-4,"fontSize":12,"color":"#4A86C8"},"encoding":{"x":{"field":"h","type":"quantitative","axis":null},"y":{"datum":-1.2,"type":"quantitative","axis":null},"text":{"field":"lab"}}},
{"data":{"name":"l"},"transform":[{"filter":"datum.e==4&&datum.t=='n2'"}],"mark":{"type":"rule","color":"#A6A6A6"},"encoding":{"x":{"field":"h","type":"quantitative","axis":null},"y":{"field":"v","type":"quantitative","axis":null},"y2":{"datum":-1.2}}},
{"data":{"name":"l"},"transform":[{"filter":"datum.e==4&&datum.t=='n2'"}],"mark":{"type":"text","align":"center","baseline":"middle","dx":3,"fontSize":12,"color":"#4A86C8"},"encoding":{"x":{"field":"h","type":"quantitative","axis":null},"y":{"datum":-1.42,"type":"quantitative","axis":null},"text":{"field":"lab"}}},
{"data":{"name":"l"},"transform":[{"filter":"datum.e==4&&datum.t=='n3'"}],"mark":{"type":"rule","color":"#A6A6A6"},"encoding":{"x":{"field":"h","type":"quantitative","axis":null},"y":{"field":"v","type":"quantitative","axis":null},"y2":{"datum":-1.08}}},
{"data":{"name":"l"},"transform":[{"filter":"datum.e==4&&datum.t=='n3'"}],"mark":{"type":"text","align":"left","baseline":"middle","dx":6,"fontSize":12,"color":"#4A86C8"},"encoding":{"x":{"field":"h","type":"quantitative","axis":null},"y":{"datum":-1.08,"type":"quantitative","axis":null},"text":{"field":"lab"}}}
]}
],"spacing":40,"resolve":{"scale":{"x":"independent","y":"independent","color":"independent","strokeDash":"independent"},"legend":{"color":"independent","strokeDash":"independent"}}},
{"hconcat":[
{"width":437,"height":204,"title":"Summer Event 5: Fri 8/12","resolve":{"axis":{"x":"independent","y":"independent"}},"layer":[
{"data":{"name":"w"},"transform":[{"filter":"datum.e==5"}],"mark":{"type":"rect","color":"#BFDDF8"},"encoding":{"x":{"field":"a","type":"quantitative","axis":null},"x2":{"field":"b"},"y":{"datum":0,"type":"quantitative","axis":null},"y2":{"datum":6.07}}},
{"data":{"name":"s"},"transform":[{"filter":"datum.e==5"},{"fold":["imp","met","mod","base"],"as":["k","v"]}],"encoding":{"x":{"field":"h","type":"quantitative","scale":{"domain":[-0.5,23.5],"nice":false,"zero":false},"axis":{"values":[0,1,2,3,4,5,6,7,8,9,10,11,12,13,14,15,16,17,18,19,20,21,22,23],"title":"Hour Beginning","offset":-50,"titleY":61,"titleBaseline":"middle","labelPadding":9,"labelOverlap":false}},"y":{"field":"v","type":"quantitative","scale":{"domain":[-2,6.1],"nice":false},"axis":{"values":[-2,-1,0,1,2,3,4,5],"title":"Average kW per Home","domain":false,"labelPadding":10,"titlePadding":6,"labelOverlap":false,"labelExpr":"''+datum.value"}},"color":{"field":"k","type":"nominal","scale":{"domain":["imp","met","mod","base"],"range":["#F8BE8A","#5E2D79","#BFDDF0","#1F3A68"]},"legend":{"title":null,"labelExpr":"datum.label=='imp'?'Est. load impact':datum.label=='met'?'Metered kW':datum.label=='mod'?'Model predicted':'Baseline'"}},"strokeDash":{"field":"k","type":"nominal","scale":{"domain":["imp","met","mod","base"],"range":[[1,0],[1,0],[9,6],[3,3]]},"legend":{"title":null,"labelExpr":"datum.label=='imp'?'Est. load impact':datum.label=='met'?'Metered kW':datum.label=='mod'?'Model predicted':'Baseline'"}}},"layer":[
{"transform":[{"filter":"datum.k=='imp'"}],"mark":{"type":"line","strokeWidth":2.6}},
{"transform":[{"filter":"datum.k=='met'"}],"mark":{"type":"line","strokeWidth":3.4}},
{"transform":[{"filter":"datum.k=='mod'"}],"mark":{"type":"line","strokeWidth":4}},
{"transform":[{"filter":"datum.k=='base'"}],"mark":{"type":"line","strokeWidth":3.2}}]},
{"data":{"name":"l"},"transform":[{"filter":"datum.e==5&&datum.t=='pre'"}],"mark":{"type":"text","align":"right","baseline":"middle","dx":-9,"dy":-12,"fontSize":12,"color":"#4A86C8"},"encoding":{"x":{"field":"h","type":"quantitative","axis":null},"y":{"field":"v","type":"quantitative","axis":null},"text":{"field":"lab"}}},
{"data":{"name":"l"},"transform":[{"filter":"datum.e==5&&datum.t=='post'"}],"mark":{"type":"text","align":"center","baseline":"middle","dx":8,"dy":-14,"fontSize":12,"color":"#4A86C8"},"encoding":{"x":{"field":"h","type":"quantitative","axis":null},"y":{"field":"v","type":"quantitative","axis":null},"text":{"field":"lab"}}},
{"data":{"name":"l"},"transform":[{"filter":"datum.e==5&&datum.t=='n1'"}],"mark":{"type":"rule","color":"#A6A6A6"},"encoding":{"x":{"field":"h","type":"quantitative","axis":null},"y":{"field":"v","type":"quantitative","axis":null},"y2":{"datum":-1.85}}},
{"data":{"name":"l"},"transform":[{"filter":"datum.e==5&&datum.t=='n1'"}],"mark":{"type":"text","align":"right","baseline":"middle","dx":-4,"fontSize":12,"color":"#4A86C8"},"encoding":{"x":{"field":"h","type":"quantitative","axis":null},"y":{"datum":-1.85,"type":"quantitative","axis":null},"text":{"field":"lab"}}},
{"data":{"name":"l"},"transform":[{"filter":"datum.e==5&&datum.t=='n2'"}],"mark":{"type":"rule","color":"#A6A6A6"},"encoding":{"x":{"field":"h","type":"quantitative","axis":null},"y":{"field":"v","type":"quantitative","axis":null},"y2":{"datum":-1.6}}},
{"data":{"name":"l"},"transform":[{"filter":"datum.e==5&&datum.t=='n2'"}],"mark":{"type":"text","align":"center","baseline":"middle","dx":3,"fontSize":12,"color":"#4A86C8"},"encoding":{"x":{"field":"h","type":"quantitative","axis":null},"y":{"datum":-1.85,"type":"quantitative","axis":null},"text":{"field":"lab"}}},
{"data":{"name":"l"},"transform":[{"filter":"datum.e==5&&datum.t=='n3'"}],"mark":{"type":"rule","color":"#A6A6A6"},"encoding":{"x":{"field":"h","type":"quantitative","axis":null},"y":{"field":"v","type":"quantitative","axis":null},"y2":{"datum":-1.35}}},
{"data":{"name":"l"},"transform":[{"filter":"datum.e==5&&datum.t=='n3'"}],"mark":{"type":"text","align":"left","baseline":"middle","dx":6,"fontSize":12,"color":"#4A86C8"},"encoding":{"x":{"field":"h","type":"quantitative","axis":null},"y":{"datum":-1.35,"type":"quantitative","axis":null},"text":{"field":"lab"}}}
]},
{"width":437,"height":204,"title":"Summer Event 6: Thu 8/18","resolve":{"axis":{"x":"independent","y":"independent"}},"layer":[
{"data":{"name":"w"},"transform":[{"filter":"datum.e==6"}],"mark":{"type":"rect","color":"#BFDDF8"},"encoding":{"x":{"field":"a","type":"quantitative","axis":null},"x2":{"field":"b"},"y":{"datum":0,"type":"quantitative","axis":null},"y2":{"datum":6.1}}},
{"data":{"name":"s"},"transform":[{"filter":"datum.e==6"},{"fold":["imp","met","mod","base"],"as":["k","v"]}],"encoding":{"x":{"field":"h","type":"quantitative","scale":{"domain":[-0.5,23.5],"nice":false,"zero":false},"axis":{"values":[0,1,2,3,4,5,6,7,8,9,10,11,12,13,14,15,16,17,18,19,20,21,22,23],"title":"Hour Beginning","offset":-50,"titleY":61,"titleBaseline":"middle","labelPadding":9,"labelOverlap":false}},"y":{"field":"v","type":"quantitative","scale":{"domain":[-2,6.1],"nice":false},"axis":{"values":[-2,-1,0,1,2,3,4,5],"title":"Average kW per Home","domain":false,"labelPadding":10,"titlePadding":6,"labelOverlap":false,"labelExpr":"''+datum.value"}},"color":{"field":"k","type":"nominal","scale":{"domain":["imp","met","mod","base"],"range":["#F8BE8A","#5E2D79","#BFDDF0","#1F3A68"]},"legend":{"title":null,"labelExpr":"datum.label=='imp'?'Est. load impact':datum.label=='met'?'Metered kW':datum.label=='mod'?'Model predicted':'Baseline'"}},"strokeDash":{"field":"k","type":"nominal","scale":{"domain":["imp","met","mod","base"],"range":[[1,0],[1,0],[9,6],[3,3]]},"legend":{"title":null,"labelExpr":"datum.label=='imp'?'Est. load impact':datum.label=='met'?'Metered kW':datum.label=='mod'?'Model predicted':'Baseline'"}}},"layer":[
{"transform":[{"filter":"datum.k=='imp'"}],"mark":{"type":"line","strokeWidth":2.6}},
{"transform":[{"filter":"datum.k=='met'"}],"mark":{"type":"line","strokeWidth":3.4}},
{"transform":[{"filter":"datum.k=='mod'"}],"mark":{"type":"line","strokeWidth":4}},
{"transform":[{"filter":"datum.k=='base'"}],"mark":{"type":"line","strokeWidth":3.2}}]},
{"data":{"name":"l"},"transform":[{"filter":"datum.e==6&&datum.t=='pre'"}],"mark":{"type":"text","align":"right","baseline":"middle","dx":-9,"dy":-12,"fontSize":12,"color":"#4A86C8"},"encoding":{"x":{"field":"h","type":"quantitative","axis":null},"y":{"field":"v","type":"quantitative","axis":null},"text":{"field":"lab"}}},
{"data":{"name":"l"},"transform":[{"filter":"datum.e==6&&datum.t=='post'"}],"mark":{"type":"text","align":"center","baseline":"middle","dx":8,"dy":-14,"fontSize":12,"color":"#4A86C8"},"encoding":{"x":{"field":"h","type":"quantitative","axis":null},"y":{"field":"v","type":"quantitative","axis":null},"text":{"field":"lab"}}},
{"data":{"name":"l"},"transform":[{"filter":"datum.e==6&&datum.t=='n1'"}],"mark":{"type":"rule","color":"#A6A6A6"},"encoding":{"x":{"field":"h","type":"quantitative","axis":null},"y":{"field":"v","type":"quantitative","axis":null},"y2":{"datum":-1.79}}},
{"data":{"name":"l"},"transform":[{"filter":"datum.e==6&&datum.t=='n1'"}],"mark":{"type":"text","align":"right","baseline":"middle","dx":-4,"fontSize":12,"color":"#4A86C8"},"encoding":{"x":{"field":"h","type":"quantitative","axis":null},"y":{"datum":-1.79,"type":"quantitative","axis":null},"text":{"field":"lab"}}},
{"data":{"name":"l"},"transform":[{"filter":"datum.e==6&&datum.t=='n2'"}],"mark":{"type":"rule","color":"#A6A6A6"},"encoding":{"x":{"field":"h","type":"quantitative","axis":null},"y":{"field":"v","type":"quantitative","axis":null},"y2":{"datum":-1.63}}},
{"data":{"name":"l"},"transform":[{"filter":"datum.e==6&&datum.t=='n2'"}],"mark":{"type":"text","align":"center","baseline":"middle","dx":3,"fontSize":12,"color":"#4A86C8"},"encoding":{"x":{"field":"h","type":"quantitative","axis":null},"y":{"datum":-1.88,"type":"quantitative","axis":null},"text":{"field":"lab"}}},
{"data":{"name":"l"},"transform":[{"filter":"datum.e==6&&datum.t=='n3'"}],"mark":{"type":"rule","color":"#A6A6A6"},"encoding":{"x":{"field":"h","type":"quantitative","axis":null},"y":{"field":"v","type":"quantitative","axis":null},"y2":{"datum":-1.52}}},
{"data":{"name":"l"},"transform":[{"filter":"datum.e==6&&datum.t=='n3'"}],"mark":{"type":"text","align":"left","baseline":"middle","dx":6,"fontSize":12,"color":"#4A86C8"},"encoding":{"x":{"field":"h","type":"quantitative","axis":null},"y":{"datum":-1.52,"type":"quantitative","axis":null},"text":{"field":"lab"}}}
]}
],"spacing":40,"resolve":{"scale":{"x":"independent","y":"independent","color":"independent","strokeDash":"independent"},"legend":{"color":"independent","strokeDash":"independent"}}},
{"hconcat":[
{"width":437,"height":204,"title":"Sumer Event 7: Fri 8/19","resolve":{"axis":{"x":"independent","y":"independent"}},"layer":[
{"data":{"name":"w"},"transform":[{"filter":"datum.e==7"}],"mark":{"type":"rect","color":"#BFDDF8"},"encoding":{"x":{"field":"a","type":"quantitative","axis":null},"x2":{"field":"b"},"y":{"datum":0,"type":"quantitative","axis":null},"y2":{"datum":6.07}}},
{"data":{"name":"s"},"transform":[{"filter":"datum.e==7"},{"fold":["imp","met","mod","base"],"as":["k","v"]}],"encoding":{"x":{"field":"h","type":"quantitative","scale":{"domain":[-0.5,23.5],"nice":false,"zero":false},"axis":{"values":[0,1,2,3,4,5,6,7,8,9,10,11,12,13,14,15,16,17,18,19,20,21,22,23],"title":"Hour Beginning","offset":-50,"titleY":61,"titleBaseline":"middle","labelPadding":9,"labelOverlap":false}},"y":{"field":"v","type":"quantitative","scale":{"domain":[-2,6.1],"nice":false},"axis":{"values":[-2,-1,0,1,2,3,4,5],"title":"Average kW per Home","domain":false,"labelPadding":10,"titlePadding":6,"labelOverlap":false,"labelExpr":"''+datum.value"}},"color":{"field":"k","type":"nominal","scale":{"domain":["imp","met","mod","base"],"range":["#F8BE8A","#5E2D79","#BFDDF0","#1F3A68"]},"legend":{"title":null,"labelExpr":"datum.label=='imp'?'Est. load impact':datum.label=='met'?'Metered kW':datum.label=='mod'?'Model predicted':'Baseline'"}},"strokeDash":{"field":"k","type":"nominal","scale":{"domain":["imp","met","mod","base"],"range":[[1,0],[1,0],[9,6],[3,3]]},"legend":{"title":null,"labelExpr":"datum.label=='imp'?'Est. load impact':datum.label=='met'?'Metered kW':datum.label=='mod'?'Model predicted':'Baseline'"}}},"layer":[
{"transform":[{"filter":"datum.k=='imp'"}],"mark":{"type":"line","strokeWidth":2.6}},
{"transform":[{"filter":"datum.k=='met'"}],"mark":{"type":"line","strokeWidth":3.4}},
{"transform":[{"filter":"datum.k=='mod'"}],"mark":{"type":"line","strokeWidth":4}},
{"transform":[{"filter":"datum.k=='base'"}],"mark":{"type":"line","strokeWidth":3.2}}]},
{"data":{"name":"l"},"transform":[{"filter":"datum.e==7&&datum.t=='pre'"}],"mark":{"type":"text","align":"right","baseline":"middle","dx":-9,"dy":-12,"fontSize":12,"color":"#4A86C8"},"encoding":{"x":{"field":"h","type":"quantitative","axis":null},"y":{"field":"v","type":"quantitative","axis":null},"text":{"field":"lab"}}},
{"data":{"name":"l"},"transform":[{"filter":"datum.e==7&&datum.t=='post'"}],"mark":{"type":"text","align":"center","baseline":"middle","dx":8,"dy":-14,"fontSize":12,"color":"#4A86C8"},"encoding":{"x":{"field":"h","type":"quantitative","axis":null},"y":{"field":"v","type":"quantitative","axis":null},"text":{"field":"lab"}}},
{"data":{"name":"l"},"transform":[{"filter":"datum.e==7&&datum.t=='n1'"}],"mark":{"type":"rule","color":"#A6A6A6"},"encoding":{"x":{"field":"h","type":"quantitative","axis":null},"y":{"field":"v","type":"quantitative","axis":null},"y2":{"datum":-1.75}}},
{"data":{"name":"l"},"transform":[{"filter":"datum.e==7&&datum.t=='n1'"}],"mark":{"type":"text","align":"right","baseline":"middle","dx":-4,"fontSize":12,"color":"#4A86C8"},"encoding":{"x":{"field":"h","type":"quantitative","axis":null},"y":{"datum":-1.75,"type":"quantitative","axis":null},"text":{"field":"lab"}}},
{"data":{"name":"l"},"transform":[{"filter":"datum.e==7&&datum.t=='n2'"}],"mark":{"type":"rule","color":"#A6A6A6"},"encoding":{"x":{"field":"h","type":"quantitative","axis":null},"y":{"field":"v","type":"quantitative","axis":null},"y2":{"datum":-1.65}}},
{"data":{"name":"l"},"transform":[{"filter":"datum.e==7&&datum.t=='n2'"}],"mark":{"type":"text","align":"center","baseline":"middle","dx":3,"fontSize":12,"color":"#4A86C8"},"encoding":{"x":{"field":"h","type":"quantitative","axis":null},"y":{"datum":-1.9,"type":"quantitative","axis":null},"text":{"field":"lab"}}},
{"data":{"name":"l"},"transform":[{"filter":"datum.e==7&&datum.t=='n3'"}],"mark":{"type":"rule","color":"#A6A6A6"},"encoding":{"x":{"field":"h","type":"quantitative","axis":null},"y":{"field":"v","type":"quantitative","axis":null},"y2":{"datum":-1.32}}},
{"data":{"name":"l"},"transform":[{"filter":"datum.e==7&&datum.t=='n3'"}],"mark":{"type":"text","align":"left","baseline":"middle","dx":6,"fontSize":12,"color":"#4A86C8"},"encoding":{"x":{"field":"h","type":"quantitative","axis":null},"y":{"datum":-1.32,"type":"quantitative","axis":null},"text":{"field":"lab"}}}
]},
{"width":437,"height":204,"title":"Summer Event 8: Thu 8/25","resolve":{"axis":{"x":"independent","y":"independent"}},"layer":[
{"data":{"name":"w"},"transform":[{"filter":"datum.e==8"}],"mark":{"type":"rect","color":"#BFDDF8"},"encoding":{"x":{"field":"a","type":"quantitative","axis":null},"x2":{"field":"b"},"y":{"datum":0,"type":"quantitative","axis":null},"y2":{"datum":5.87}}},
{"data":{"name":"s"},"transform":[{"filter":"datum.e==8"},{"fold":["imp","met","mod","base"],"as":["k","v"]}],"encoding":{"x":{"field":"h","type":"quantitative","scale":{"domain":[-0.5,23.5],"nice":false,"zero":false},"axis":{"values":[0,1,2,3,4,5,6,7,8,9,10,11,12,13,14,15,16,17,18,19,20,21,22,23],"title":"Hour Beginning","offset":-50,"titleY":61,"titleBaseline":"middle","labelPadding":9,"labelOverlap":false}},"y":{"field":"v","type":"quantitative","scale":{"domain":[-2,6.1],"nice":false},"axis":{"values":[-2,-1,0,1,2,3,4,5],"title":"Average kW per Home","domain":false,"labelPadding":10,"titlePadding":6,"labelOverlap":false,"labelExpr":"''+datum.value"}},"color":{"field":"k","type":"nominal","scale":{"domain":["imp","met","mod","base"],"range":["#F8BE8A","#5E2D79","#BFDDF0","#1F3A68"]},"legend":{"title":null,"labelExpr":"datum.label=='imp'?'Est. load impact':datum.label=='met'?'Metered kW':datum.label=='mod'?'Model predicted':'Baseline'"}},"strokeDash":{"field":"k","type":"nominal","scale":{"domain":["imp","met","mod","base"],"range":[[1,0],[1,0],[9,6],[3,3]]},"legend":{"title":null,"labelExpr":"datum.label=='imp'?'Est. load impact':datum.label=='met'?'Metered kW':datum.label=='mod'?'Model predicted':'Baseline'"}}},"layer":[
{"transform":[{"filter":"datum.k=='imp'"}],"mark":{"type":"line","strokeWidth":2.6}},
{"transform":[{"filter":"datum.k=='met'"}],"mark":{"type":"line","strokeWidth":3.4}},
{"transform":[{"filter":"datum.k=='mod'"}],"mark":{"type":"line","strokeWidth":4}},
{"transform":[{"filter":"datum.k=='base'"}],"mark":{"type":"line","strokeWidth":3.2}}]},
{"data":{"name":"l"},"transform":[{"filter":"datum.e==8&&datum.t=='pre'"}],"mark":{"type":"text","align":"right","baseline":"middle","dx":-9,"dy":-12,"fontSize":12,"color":"#4A86C8"},"encoding":{"x":{"field":"h","type":"quantitative","axis":null},"y":{"field":"v","type":"quantitative","axis":null},"text":{"field":"lab"}}},
{"data":{"name":"l"},"transform":[{"filter":"datum.e==8&&datum.t=='post'"}],"mark":{"type":"text","align":"center","baseline":"middle","dx":8,"dy":-14,"fontSize":12,"color":"#4A86C8"},"encoding":{"x":{"field":"h","type":"quantitative","axis":null},"y":{"field":"v","type":"quantitative","axis":null},"text":{"field":"lab"}}},
{"data":{"name":"l"},"transform":[{"filter":"datum.e==8&&datum.t=='n1'"}],"mark":{"type":"rule","color":"#A6A6A6"},"encoding":{"x":{"field":"h","type":"quantitative","axis":null},"y":{"field":"v","type":"quantitative","axis":null},"y2":{"datum":-1.69}}},
{"data":{"name":"l"},"transform":[{"filter":"datum.e==8&&datum.t=='n1'"}],"mark":{"type":"text","align":"right","baseline":"middle","dx":-4,"fontSize":12,"color":"#4A86C8"},"encoding":{"x":{"field":"h","type":"quantitative","axis":null},"y":{"datum":-1.69,"type":"quantitative","axis":null},"text":{"field":"lab"}}},
{"data":{"name":"l"},"transform":[{"filter":"datum.e==8&&datum.t=='n2'"}],"mark":{"type":"rule","color":"#A6A6A6"},"encoding":{"x":{"field":"h","type":"quantitative","axis":null},"y":{"field":"v","type":"quantitative","axis":null},"y2":{"datum":-1.53}}},
{"data":{"name":"l"},"transform":[{"filter":"datum.e==8&&datum.t=='n2'"}],"mark":{"type":"text","align":"center","baseline":"middle","dx":3,"fontSize":12,"color":"#4A86C8"},"encoding":{"x":{"field":"h","type":"quantitative","axis":null},"y":{"datum":-1.78,"type":"quantitative","axis":null},"text":{"field":"lab"}}},
{"data":{"name":"l"},"transform":[{"filter":"datum.e==8&&datum.t=='n3'"}],"mark":{"type":"rule","color":"#A6A6A6"},"encoding":{"x":{"field":"h","type":"quantitative","axis":null},"y":{"field":"v","type":"quantitative","axis":null},"y2":{"datum":-1.43}}},
{"data":{"name":"l"},"transform":[{"filter":"datum.e==8&&datum.t=='n3'"}],"mark":{"type":"text","align":"left","baseline":"middle","dx":6,"fontSize":12,"color":"#4A86C8"},"encoding":{"x":{"field":"h","type":"quantitative","axis":null},"y":{"datum":-1.43,"type":"quantitative","axis":null},"text":{"field":"lab"}}}
]}
],"spacing":40,"resolve":{"scale":{"x":"independent","y":"independent","color":"independent","strokeDash":"independent"},"legend":{"color":"independent","strokeDash":"independent"}}},
{"width":437,"height":204,"title":"Summer Event 9: Fri 8/26","resolve":{"axis":{"x":"independent","y":"independent"}},"layer":[
{"data":{"name":"w"},"transform":[{"filter":"datum.e==9"}],"mark":{"type":"rect","color":"#BFDDF8"},"encoding":{"x":{"field":"a","type":"quantitative","axis":null},"x2":{"field":"b"},"y":{"datum":0,"type":"quantitative","axis":null},"y2":{"datum":6.07}}},
{"data":{"name":"s"},"transform":[{"filter":"datum.e==9"},{"fold":["imp","met","mod","base"],"as":["k","v"]}],"encoding":{"x":{"field":"h","type":"quantitative","scale":{"domain":[-0.5,23.5],"nice":false,"zero":false},"axis":{"values":[0,1,2,3,4,5,6,7,8,9,10,11,12,13,14,15,16,17,18,19,20,21,22,23],"title":"Hour Beginning","offset":-50,"titleY":61,"titleBaseline":"middle","labelPadding":9,"labelOverlap":false}},"y":{"field":"v","type":"quantitative","scale":{"domain":[-2,6.1],"nice":false},"axis":{"values":[-2,-1,0,1,2,3,4,5],"title":"Average kW per Home","domain":false,"labelPadding":10,"titlePadding":6,"labelOverlap":false,"labelExpr":"''+datum.value"}},"color":{"field":"k","type":"nominal","scale":{"domain":["imp","met","mod","base"],"range":["#F8BE8A","#5E2D79","#BFDDF0","#1F3A68"]},"legend":{"title":null,"labelExpr":"datum.label=='imp'?'Est. load impact':datum.label=='met'?'Metered kW':datum.label=='mod'?'Model predicted':'Baseline'"}},"strokeDash":{"field":"k","type":"nominal","scale":{"domain":["imp","met","mod","base"],"range":[[1,0],[1,0],[9,6],[3,3]]},"legend":{"title":null,"labelExpr":"datum.label=='imp'?'Est. load impact':datum.label=='met'?'Metered kW':datum.label=='mod'?'Model predicted':'Baseline'"}}},"layer":[
{"transform":[{"filter":"datum.k=='imp'"}],"mark":{"type":"line","strokeWidth":2.6}},
{"transform":[{"filter":"datum.k=='met'"}],"mark":{"type":"line","strokeWidth":3.4}},
{"transform":[{"filter":"datum.k=='mod'"}],"mark":{"type":"line","strokeWidth":4}},
{"transform":[{"filter":"datum.k=='base'"}],"mark":{"type":"line","strokeWidth":3.2}}]},
{"data":{"name":"l"},"transform":[{"filter":"datum.e==9&&datum.t=='pre'"}],"mark":{"type":"text","align":"right","baseline":"middle","dx":-9,"dy":-12,"fontSize":12,"color":"#4A86C8"},"encoding":{"x":{"field":"h","type":"quantitative","axis":null},"y":{"field":"v","type":"quantitative","axis":null},"text":{"field":"lab"}}},
{"data":{"name":"l"},"transform":[{"filter":"datum.e==9&&datum.t=='post'"}],"mark":{"type":"text","align":"center","baseline":"middle","dx":8,"dy":-14,"fontSize":12,"color":"#4A86C8"},"encoding":{"x":{"field":"h","type":"quantitative","axis":null},"y":{"field":"v","type":"quantitative","axis":null},"text":{"field":"lab"}}},
{"data":{"name":"l"},"transform":[{"filter":"datum.e==9&&datum.t=='n1'"}],"mark":{"type":"rule","color":"#A6A6A6"},"encoding":{"x":{"field":"h","type":"quantitative","axis":null},"y":{"field":"v","type":"quantitative","axis":null},"y2":{"datum":-1.53}}},
{"data":{"name":"l"},"transform":[{"filter":"datum.e==9&&datum.t=='n1'"}],"mark":{"type":"text","align":"right","baseline":"middle","dx":-14,"fontSize":12,"color":"#4A86C8"},"encoding":{"x":{"field":"h","type":"quantitative","axis":null},"y":{"datum":-1.53,"type":"quantitative","axis":null},"text":{"field":"lab"}}},
{"data":{"name":"l"},"transform":[{"filter":"datum.e==9&&datum.t=='n2'"}],"mark":{"type":"rule","color":"#A6A6A6"},"encoding":{"x":{"field":"h","type":"quantitative","axis":null},"y":{"field":"v","type":"quantitative","axis":null},"y2":{"datum":-1.68}}},
{"data":{"name":"l"},"transform":[{"filter":"datum.e==9&&datum.t=='n2'"}],"mark":{"type":"text","align":"center","baseline":"middle","dx":0,"fontSize":12,"color":"#4A86C8"},"encoding":{"x":{"field":"h","type":"quantitative","axis":null},"y":{"datum":-1.93,"type":"quantitative","axis":null},"text":{"field":"lab"}}},
{"data":{"name":"l"},"transform":[{"filter":"datum.e==9&&datum.t=='n3'"}],"mark":{"type":"rule","color":"#A6A6A6"},"encoding":{"x":{"field":"h","type":"quantitative","axis":null},"y":{"field":"v","type":"quantitative","axis":null},"y2":{"datum":-1.6}}},
{"data":{"name":"l"},"transform":[{"filter":"datum.e==9&&datum.t=='n3'"}],"mark":{"type":"text","align":"left","baseline":"middle","dx":6,"fontSize":12,"color":"#4A86C8"},"encoding":{"x":{"field":"h","type":"quantitative","axis":null},"y":{"datum":-1.6,"type":"quantitative","axis":null},"text":{"field":"lab"}}}
]}
],
"config":{
"font":"Open Sans",
"view":{"stroke":null},
"title":{"fontSize":17,"fontWeight":"normal","color":"#595959","offset":16,"frame":"bounds"},
"axis":{"grid":false,"ticks":false,"labelColor":"#595959","titleColor":"#595959","labelFontSize":11,"titleFontSize":11,"titleFontWeight":"normal","domainColor":"#D9D9D9"},
"legend":{"orient":"bottom","direction":"horizontal","symbolType":"stroke","symbolSize":1000,"symbolStrokeWidth":3,"labelFontSize":10.5,"labelColor":"#595959","columnPadding":3,"labelOffset":3,"offset":4,"labelLimit":300,"layout":{"bottom":{"anchor":"middle"}}}
}
}
